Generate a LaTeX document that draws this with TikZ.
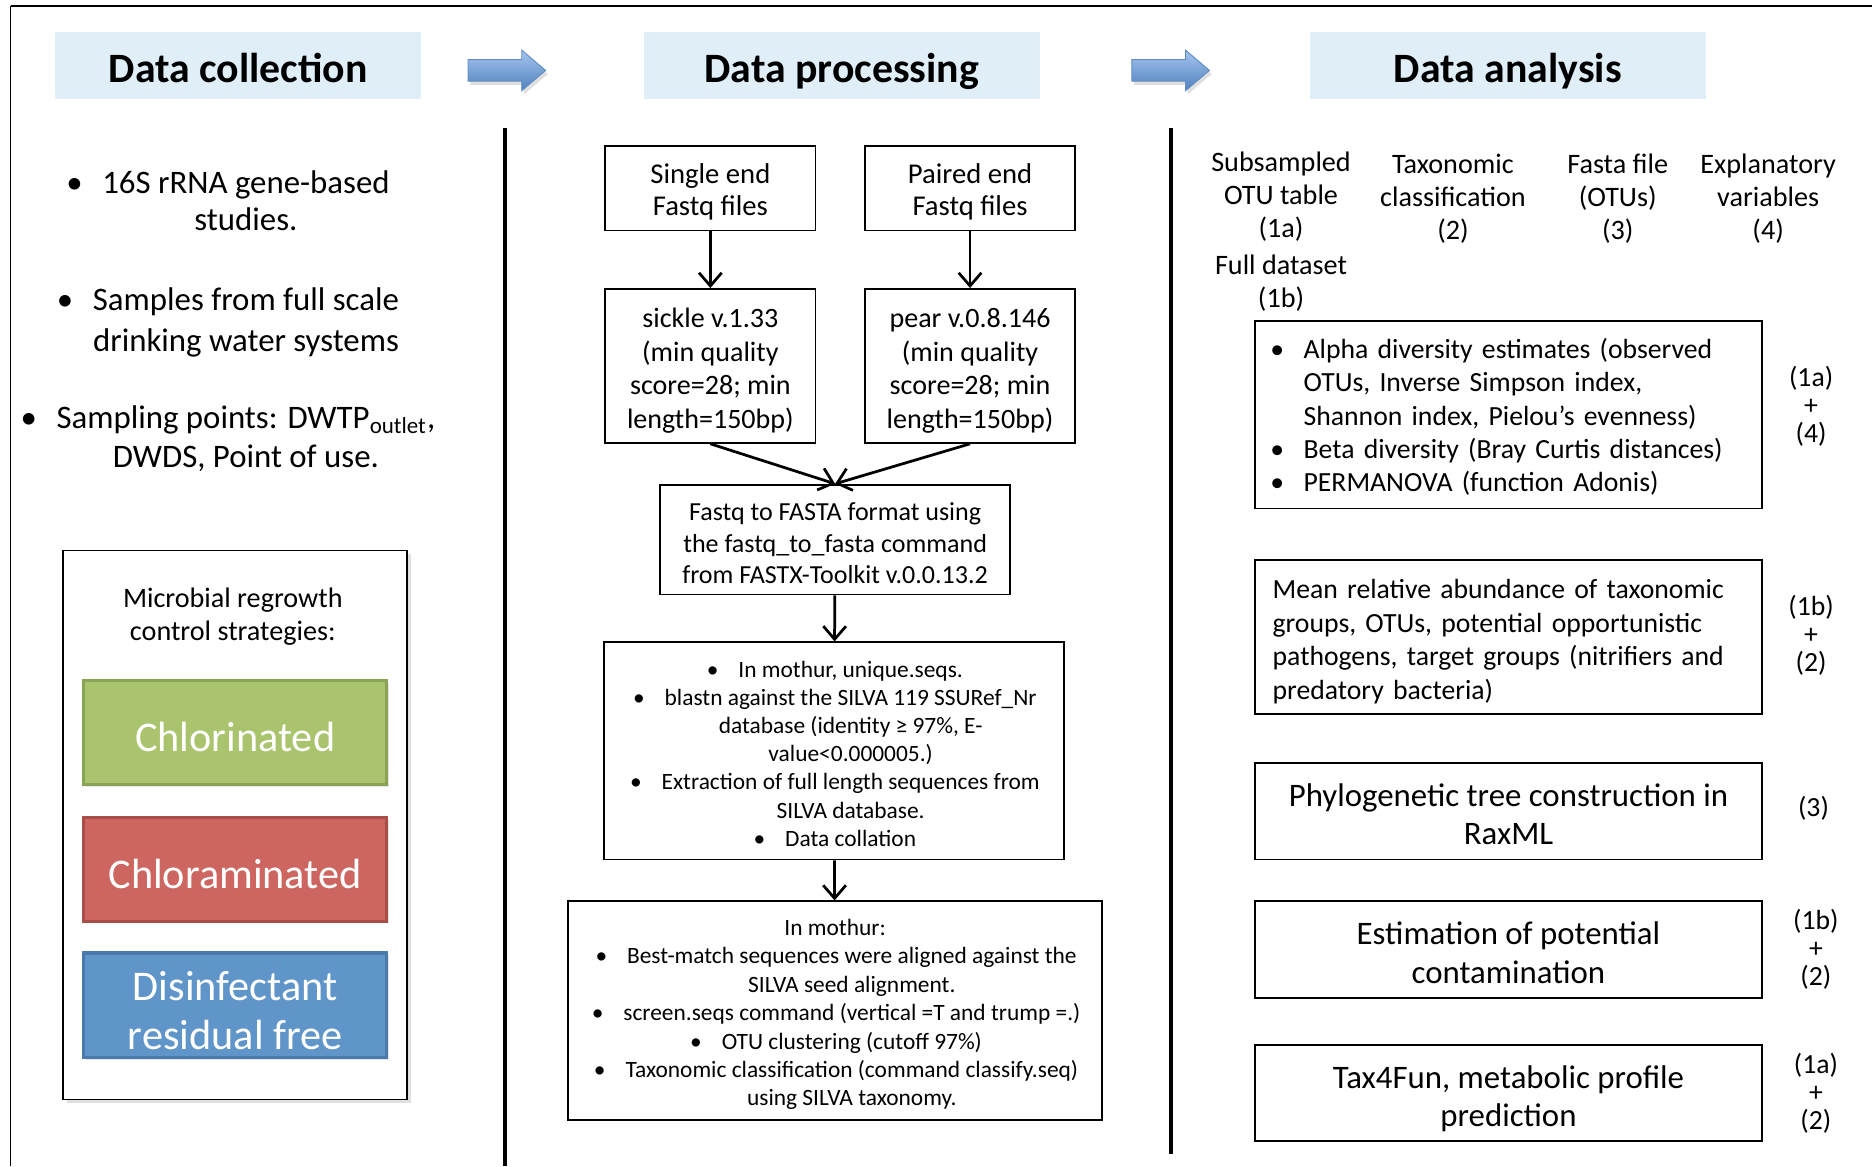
\documentclass[tikz,border=0pt]{standalone}
\usepackage{fontspec}
\setmainfont{Carlito}
\usetikzlibrary{arrows.meta,shadows}
\definecolor{hdr}{HTML}{DFEEF7}
\definecolor{grn}{HTML}{A9C46D}
\definecolor{grnd}{HTML}{8AA456}
\definecolor{rd}{HTML}{CD6660}
\definecolor{rdd}{HTML}{A74E49}
\definecolor{blu}{HTML}{6095C9}
\definecolor{blud}{HTML}{4A79AE}
\definecolor{arrlt}{HTML}{A6C5EF}
\definecolor{arrdk}{HTML}{4F81BD}
\newcommand{\bul}[1][.6em]{\llap{\textbullet\hspace{#1}}}
\newcommand{\ind}{\hspace*{14pt}}
\newcommand{\lowr}[1]{\rule{0pt}{\dimexpr\fontcharht\font`\(+#1\relax}}

\begin{document}
\begin{tikzpicture}[x=0.5pt,y=-0.5pt,
  head/.style={fill=hdr,inner sep=0pt,minimum height=28pt,text height=14pt,text depth=0pt,
    font=\fontsize{17.5}{20}\selectfont\bfseries},
  pbox/.style={draw,line width=0.75pt,align=center,inner sep=0pt},
  strat/.style 2 args={fill=#1,draw=#2,line width=1.3pt,text=white,align=center,
    minimum width=127pt,minimum height=43.5pt,font=\fontsize{17.7}{20.5}\selectfont,
    drop shadow={opacity=0.2,shadow xshift=1pt,shadow yshift=-1pt}},
  flow/.style={-{Straight Barb[length=5.5pt,width=9.5pt]},line width=1.15pt},
  blk/.style={top color=arrlt,bottom color=arrdk,draw=arrdk!90,line width=0.4pt,
    drop shadow={opacity=0.25,shadow xshift=1pt,shadow yshift=-1.5pt}}]
  \useasboundingbox (0,0) rectangle (1568,977);
  % frame and column dividers
  \draw[line width=0.5pt] (9,977) -- (9,5);
  \draw[line width=1.1pt] (9,5) -- (1568,5);
  \draw[line width=1.6pt] (423,107) -- (423,977);
  \draw[line width=1.6pt] (981,107) -- (981,967);

  \node[head,minimum width=153.5pt] (hcol) at (199.5,55) {Data collection};
  \node[head,minimum width=166pt] (hpro) at (705,55) {Data processing};
  \node[head,minimum width=166pt] (hana) at (1263,55) {Data analysis};
  \foreach \ax in {392,948}
    \shadedraw[blk] (\ax,50) -- ++(45,0) -- ++(0,-8) -- ++(20,17) -- ++(-20,17) -- ++(0,-8) -- ++(-45,0) -- cycle;

  % data collection
  \node[align=center,font=\fontsize{13.75}{15.5}\selectfont] (b1) at (206,168) {\bul 16S rRNA gene-based\\studies.};
  \node[align=center,font=\fontsize{13.75}{17}\selectfont] (b2) at (206,270) {\bul Samples from full scale\\drinking water systems};
  \node[align=center,font=\fontsize{13.75}{16.5}\selectfont] (b3) at (206,367.5) {\bul Sampling points: DWTP\textsubscript{outlet},\\DWDS, Point of use.};
  \node[draw,fill=white,line width=0.7pt,minimum width=144pt,minimum height=230pt,
    drop shadow={opacity=0.25,shadow xshift=1.5pt,shadow yshift=-1.5pt}] (mb) at (197,691) {};
  \node[align=center,font=\fontsize{11.8}{14}\selectfont] (mbt) at (195,516.5) {Microbial regrowth\\control strategies:};
  \node[strat={grn}{grnd}] (chl) at (197,613.5) {\lowr{3.5pt}Chlorinated};
  \node[strat={rd}{rdd}] (chm) at (197,728) {\lowr{3.5pt}Chloraminated};
  \node[strat={blu}{blud}] (dfr) at (197,842) {\lowr{3.5pt}Disinfectant\\residual free};

  % data processing
  \node[pbox,minimum width=88pt,minimum height=35.5pt,font=\fontsize{12}{13.5}\selectfont] (se) at (595,157.5) {\lowr{3pt}Single end\\Fastq files};
  \node[pbox,minimum width=88pt,minimum height=35.5pt,font=\fontsize{12}{13.5}\selectfont] (pe) at (812.5,157.5) {\lowr{3pt}Paired end\\Fastq files};
  \node[pbox,minimum width=88pt,minimum height=64.5pt,font=\fontsize{11.75}{14}\selectfont] (sk) at (595,306.5)
    {\lowr{3.5pt}sickle v.1.33\\(min quality\\score=28; min\\length=150bp)};
  \node[pbox,minimum width=88pt,minimum height=64.5pt,font=\fontsize{11.75}{14}\selectfont] (pr) at (812.5,306.5)
    {\lowr{3.5pt}pear v.0.8.146\\(min quality\\score=28; min\\length=150bp)};
  \node[pbox,minimum width=146.5pt,minimum height=46pt,font=\fontsize{10.9}{13}\selectfont] (ff) at (699.5,452)
    {\lowr{2.5pt}Fastq to FASTA format using\\the fastq\_to\_fasta command\\from FASTX-Toolkit v.0.0.13.2};
  \node[pbox,minimum width=192.5pt,minimum height=91pt,font=\fontsize{9.8}{11.8}\selectfont] (m1) at (698.5,629)
    {\lowr{2pt}\ind\bul[.85em]In mothur, unique.seqs.\\
     \ind\bul[.85em]blastn against the SILVA 119 SSURef\_Nr\\
     \ind database (identity ≥ 97\%, E-\\
     \ind value<0.000005.)\\
     \ind\bul[.85em]Extraction of full length sequences from\\
     \ind SILVA database.\\
     \ind\bul[.85em]Data collation};
  \node[pbox,minimum width=223.5pt,minimum height=91.5pt,font=\fontsize{9.8}{11.9}\selectfont] (m2) at (699.5,846.5)
    {\lowr{3pt}In mothur:\\
     \ind\bul[.85em]Best-match sequences were aligned against the\\
     \ind SILVA seed alignment.\\
     \ind\bul[.85em]screen.seqs command (vertical =T and trump =.)\\
     \ind\bul[.85em]OTU clustering (cutoff 97\%)\\
     \ind\bul[.85em]Taxonomic classification (command classify.seq)\\
     \ind using SILVA taxonomy.};
  \draw[flow] (se) -- (sk);
  \draw[flow] (pe) -- (pr);
  \draw[flow] (sk.south) -- (ff.north);
  \draw[flow] (pr.south) -- (ff.north);
  \draw[flow] (ff) -- (m1);
  \draw[flow] (m1) -- (m2);

  % data analysis
  \node[align=center,font=\fontsize{11.8}{13.75}\selectfont] (t1) at (1073,165) {Subsampled\\OTU table\\(1a)};
  \node[align=center,font=\fontsize{11.8}{13.75}\selectfont] (t1b) at (1073,237.5) {Full dataset\\(1b)};
  \node[align=center,font=\fontsize{11.8}{13.75}\selectfont] (t2) at (1217,166.5) {Taxonomic\\classification\\(2)};
  \node[align=center,font=\fontsize{11.8}{13.75}\selectfont] (t3) at (1355,166.5) {Fasta file\\(OTUs)\\(3)};
  \node[align=center,font=\fontsize{11.8}{13.75}\selectfont] (t4) at (1481,166.5) {Explanatory\\variables\\(4)};
  \node[pbox,align=left,text width=199.5pt,inner xsep=6.5pt,minimum height=78.5pt,font=\fontsize{11.6}{14}\selectfont] (ba) at (1263.5,347.5)
    {\begin{tabular}{@{}l@{\hspace{8.2pt}}l@{}}
      \rule{0pt}{12.8pt}\textbullet & Alpha diversity estimates (observed\\
                  & OTUs, Inverse Simpson index,\\
                  & Shannon index, Pielou’s evenness)\\
      \textbullet & Beta diversity (Bray Curtis distances)\\
      \textbullet & PERMANOVA (function Adonis)
     \end{tabular}};
  \node[pbox,align=left,text width=197.5pt,inner xsep=7.5pt,minimum height=64.5pt,font=\fontsize{11.6}{14}\selectfont] (bb) at (1263.5,533.5)
    {\lowr{3.5pt}Mean relative abundance of taxonomic\\groups, OTUs, potential opportunistic\\pathogens, target groups (nitrifiers and\\predatory bacteria)};
  \node[pbox,minimum width=212.5pt,minimum height=40.5pt,font=\fontsize{13.75}{16}\selectfont] (bc) at (1263.5,679.5) {\lowr{2pt}Phylogenetic tree construction in\\RaxML};
  \node[pbox,minimum width=212.5pt,minimum height=40.5pt,font=\fontsize{13.75}{16}\selectfont] (bd) at (1263.5,795.5) {\lowr{2pt}Estimation of potential\\contamination};
  \node[pbox,minimum width=212.5pt,minimum height=40.5pt,font=\fontsize{13.75}{16}\selectfont] (be) at (1263.5,915.5) {\lowr{4pt}Tax4Fun, metabolic profile\\prediction};
  \node[align=center,font=\fontsize{11.6}{11.75}\selectfont] (la) at (1517,340) {(1a)\\+\\(4)};
  \node[align=center,font=\fontsize{11.6}{11.75}\selectfont] (lb) at (1517,532) {(1b)\\+\\(2)};
  \node[align=center,font=\fontsize{11.6}{11.75}\selectfont] (lc) at (1519,677) {(3)};
  \node[align=center,font=\fontsize{11.6}{11.75}\selectfont] (ld) at (1521,795) {(1b)\\+\\(2)};
  \node[align=center,font=\fontsize{11.6}{11.75}\selectfont] (le) at (1521,916) {(1a)\\+\\(2)};
\end{tikzpicture}
\end{document}
